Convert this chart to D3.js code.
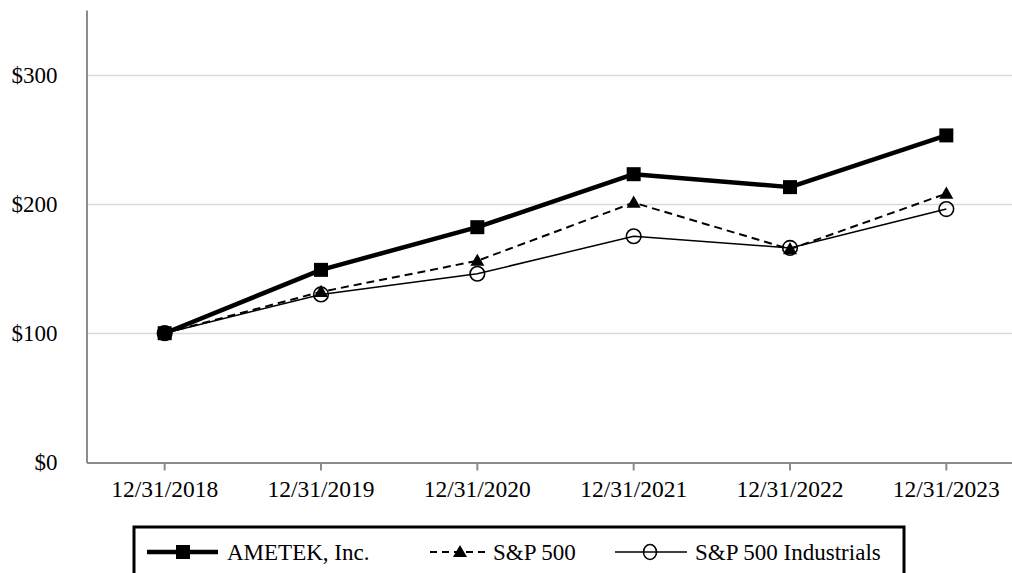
<!DOCTYPE html>
<html><head><meta charset="utf-8">
<script src="https://cdn.jsdelivr.net/npm/d3@7"></script>
<style>
html,body{margin:0;padding:0;background:#fff;overflow:hidden;}
text{font-family:"Liberation Serif","Times New Roman",serif;fill:#000;}
</style></head>
<body><svg id="c" width="1012" height="573"></svg>
<script>
const categories = ["12/31/2018","12/31/2019","12/31/2020","12/31/2021","12/31/2022","12/31/2023"];
const ametek = [100, 149, 182, 223, 213, 253];
const sp500 = [100, 132, 156, 201, 165, 208];
const spIndustrials = [100, 130, 146, 175, 166, 196];
const yTicks = [0, 100, 200, 300];
const seriesNames = ["AMETEK, Inc.", "S&P 500", "S&P 500 Industrials"];

const svg = d3.select("#c");
const x = d3.scaleBand().domain(categories).range([86.5, 1024.5]);
const y = d3.scaleLinear().domain([0, 350]).range([462.5, 10]);
const cx = d => x(d) + x.bandwidth()/2;

// gridlines
svg.append("g").selectAll("line").data(yTicks.filter(d=>d>0)).join("line")
  .attr("x1", 87).attr("x2", 1012).attr("y1", d=>Math.round(y(d))+0.5).attr("y2", d=>Math.round(y(d))+0.5)
  .attr("stroke", "#d9d9d9").attr("stroke-width", 1.5);

// y axis
const yAxis = svg.append("g").attr("transform","translate(86.5,0)")
  .call(d3.axisLeft(y).tickValues(yTicks).tickSize(0).tickPadding(29).tickFormat(d=>"$"+d));
yAxis.select(".domain").attr("stroke","#8c8c8c").attr("stroke-width",2);
yAxis.selectAll("text").attr("font-size",23).attr("font-family","Liberation Serif");

// x axis
const xAxis = svg.append("g").attr("transform","translate(0,462.5)")
  .call(d3.axisBottom(x).tickSize(8).tickSizeOuter(0).tickPadding(10));
xAxis.select(".domain").attr("stroke","#8c8c8c").attr("stroke-width",2);
xAxis.selectAll(".tick line").attr("stroke","#8c8c8c").attr("stroke-width",2);
xAxis.selectAll("text").attr("font-size",23.5).attr("font-family","Liberation Serif");

const line = d3.line().x((d,i)=>cx(categories[i])).y(d=>y(d));

// AMETEK
svg.append("path").datum(ametek).attr("d", line).attr("fill","none").attr("stroke","#000").attr("stroke-width",4.5).attr("stroke-linejoin","round");
// S&P 500
svg.append("path").datum(sp500).attr("d", line).attr("fill","none").attr("stroke","#000").attr("stroke-width",2).attr("stroke-dasharray","8,5");
// Industrials
svg.append("path").datum(spIndustrials).attr("d", line).attr("fill","none").attr("stroke","#000").attr("stroke-width",1.5);

const sq = 14;
svg.append("g").selectAll("rect").data(ametek).join("rect")
  .attr("x",(d,i)=>cx(categories[i])-sq/2).attr("y",d=>y(d)-sq/2).attr("width",sq).attr("height",sq).attr("fill","#000");
const tri = d3.symbol().type(d3.symbolTriangle).size(85);
svg.append("g").selectAll("path").data(sp500).join("path")
  .attr("d", tri).attr("transform",(d,i)=>`translate(${cx(categories[i])},${y(d)+1})`).attr("fill","#000");
svg.append("g").selectAll("circle").data(spIndustrials).join("circle")
  .attr("cx",(d,i)=>cx(categories[i])).attr("cy",d=>y(d)).attr("r",7.3)
  .attr("fill","none").attr("stroke","#000").attr("stroke-width",1.6);

// legend
const lg = svg.append("g");
lg.append("rect").attr("x",134).attr("y",527).attr("width",770).attr("height",60)
  .attr("fill","#fff").attr("stroke","#000").attr("stroke-width",3);
const ly = 552;
// item 1
lg.append("line").attr("x1",147).attr("x2",218).attr("y1",ly).attr("y2",ly).attr("stroke","#000").attr("stroke-width",4.5);
lg.append("rect").attr("x",183-7).attr("y",ly-7).attr("width",14).attr("height",14).attr("fill","#000");
lg.append("text").attr("x",227).attr("y",ly).attr("dy","0.35em").attr("font-size",23).text(seriesNames[0]);
// item 2
lg.append("line").attr("x1",430).attr("x2",488).attr("y1",ly).attr("y2",ly).attr("stroke","#000").attr("stroke-width",2).attr("stroke-dasharray","7,5");
lg.append("path").attr("d",tri).attr("transform",`translate(460,${ly+1})`).attr("fill","#000");
lg.append("text").attr("x",493).attr("y",ly).attr("dy","0.35em").attr("font-size",23).text(seriesNames[1]);
// item 3
lg.append("line").attr("x1",615).attr("x2",687).attr("y1",ly).attr("y2",ly).attr("stroke","#000").attr("stroke-width",1.5);
lg.append("ellipse").attr("cx",650).attr("cy",ly).attr("rx",6.5).attr("ry",7.5).attr("fill","none").attr("stroke","#000").attr("stroke-width",1.6);
lg.append("text").attr("x",695).attr("y",ly).attr("dy","0.35em").attr("font-size",23).text(seriesNames[2]);
</script></body></html>
